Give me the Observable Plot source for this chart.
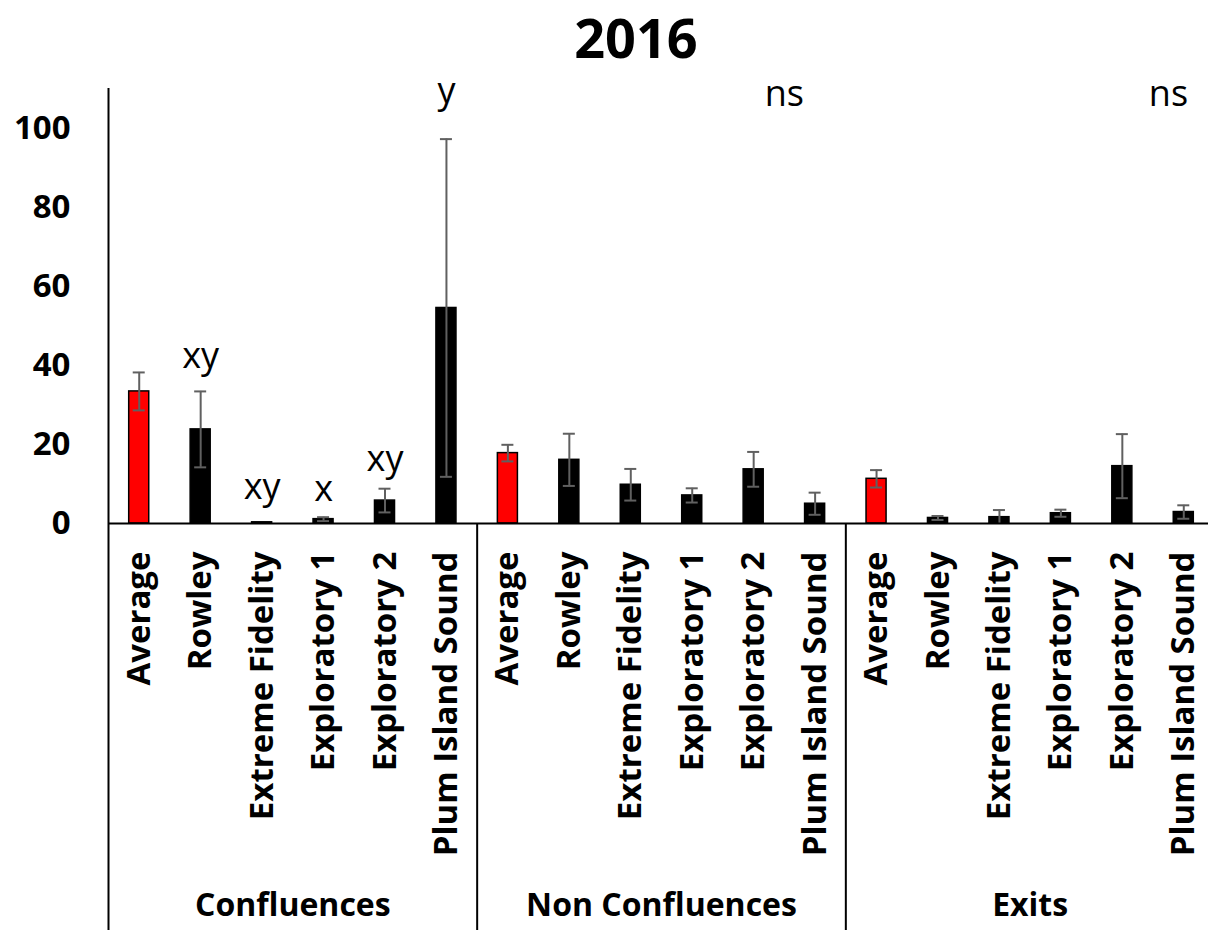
<!DOCTYPE html>
<html>
<head>
<meta charset="utf-8">
<script src="https://cdn.jsdelivr.net/npm/d3@7"></script>
<script src="https://cdn.jsdelivr.net/npm/@observablehq/plot@0.6"></script>
<style>
  body { margin: 0; background: #fff; overflow: hidden; font-family: "Open Sans", sans-serif; }
  #title { box-sizing: border-box; height: 74px; padding-left: 64px; line-height: normal;
           text-align: center; font-weight: bold; font-size: 54px; color: #000; }
</style>
</head>
<body>
<div id="title">2016</div>
<div id="chart"></div>
<script>
// ---- data ----
const groups = ["Confluences", "Non Confluences", "Exits"];
const categories = ["Average", "Rowley", "Extreme Fidelity", "Exploratory 1", "Exploratory 2", "Plum Island Sound"];
const confluencesMean    = [33.4, 23.8, 0.3, 1.1, 5.8, 54.5];
const confluencesErr     = [4.8, 9.6, 0, 0.5, 3.0, 42.7];
const nonConfluencesMean = [17.8, 16.1, 9.8, 7.1, 13.7, 5.0];
const nonConfluencesErr  = [2.1, 6.6, 4.0, 1.8, 4.4, 2.8];
const exitsMean          = [11.3, 1.4, 1.6, 2.6, 14.5, 2.9];
const exitsErr           = [2.2, 0.5, 1.8, 0.9, 8.1, 1.7];
const yTicks = [0, 20, 40, 60, 80, 100];
// significance letters: slot (bar index, data units) and height (data units)
const letterText = ["xy", "xy", "x", "xy", "y", "ns", "ns"];
const letterSlot = [1.5, 2.5, 3.5, 4.5, 5.5, 11.0, 17.25];
const letterY    = [39.2, 6.3, 5.6, 13.4, 106.3, 105.6, 105.6];

// ---- build table ----
const means = [confluencesMean, nonConfluencesMean, exitsMean];
const errs = [confluencesErr, nonConfluencesErr, exitsErr];
const rows = [];
groups.forEach((g, gi) => categories.forEach((c, ci) => {
  rows.push({group: g, category: c, idx: gi * categories.length + ci,
             mean: means[gi][ci], err: errs[gi][ci]});
}));
const errRows = rows.filter(d => d.err > 0);
const letters = letterText.map((t, i) => ({text: t, x: letterSlot[i], y: letterY[i]}));
const groupRows = groups.map((g, gi) => ({group: g, mid: gi * categories.length + categories.length / 2}));
const n = rows.length;
const separators = d3.range(0, n + 1, categories.length);

const chart = Plot.plot({
  width: 1208,
  height: 856,
  marginLeft: 108,
  marginRight: -6,
  marginTop: 14,
  marginBottom: 407,
  style: {fontFamily: "Open Sans, sans-serif", overflow: "visible", background: "#fff"},
  x: {domain: [0, n], axis: null},
  y: {domain: [0, 110], axis: null},
  marks: [
    // y axis labels
    Plot.axisY({ticks: yTicks, tickSize: 0, tickPadding: 38, fontSize: 33, fontWeight: "bold", label: null, fill: "#000"}),
    // bars
    Plot.rectY(rows, {x1: d => d.idx, x2: d => d.idx + 1, y: "mean", insetLeft: 20.7, insetRight: 20.7,
      fill: d => d.category === "Average" ? "#ff0000" : "#000000", stroke: "#000", strokeWidth: 1.5}),
    // error bars
    Plot.ruleX(errRows, {x: d => d.idx + 0.5, y1: d => Math.max(0, d.mean - d.err), y2: d => d.mean + d.err,
      stroke: "#606060", strokeWidth: 2}),
    Plot.ruleY(errRows, {x1: d => d.idx + 0.5, x2: d => d.idx + 0.5, y: d => d.mean + d.err,
      insetLeft: -6, insetRight: -6, stroke: "#606060", strokeWidth: 2}),
    Plot.ruleY(errRows.filter(d => d.mean - d.err > 0), {x1: d => d.idx + 0.5, x2: d => d.idx + 0.5, y: d => d.mean - d.err,
      insetLeft: -6, insetRight: -6, stroke: "#606060", strokeWidth: 2}),
    // axis lines
    Plot.ruleY([0], {stroke: "#000", strokeWidth: 2}),
    Plot.ruleX([0], {stroke: "#000", strokeWidth: 2}),
    Plot.axisX({ticks: separators, tickSize: 407, tickFormat: () => "", stroke: "#000", strokeWidth: 2, label: null}),
    // category labels
    Plot.text(rows, {x: d => d.idx + 0.5, y: 0, text: "category", rotate: -90, textAnchor: "end",
      dy: 28, fontSize: 33, fontWeight: "bold", fill: "#000"}),
    // group labels
    Plot.text(groupRows, {x: "mid", y: 0, text: "group", lineAnchor: "bottom", dy: 392,
      fontSize: 32, fontWeight: "bold", fill: "#000"}),
    // significance letters
    Plot.text(letters, {x: "x", y: "y", text: "text", lineAnchor: "bottom", fontSize: 36, fill: "#000"})
  ]
});
document.getElementById("chart").appendChild(chart);
</script>
</body>
</html>
